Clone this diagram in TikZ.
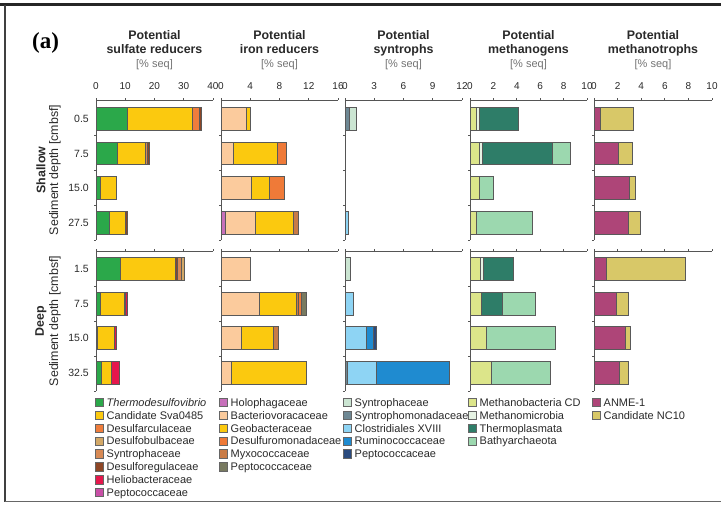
\documentclass[tikz,border=0pt]{standalone}
\usepackage{fontspec}
\setmainfont{Liberation Sans}
\newfontfamily\serifb{Liberation Serif}
\definecolor{cThermo}{HTML}{2BA84A}
\definecolor{cSva}{HTML}{FBC90F}
\definecolor{cDarc}{HTML}{EF7D3C}
\definecolor{cDbulb}{HTML}{D3A867}
\definecolor{cSyntroph}{HTML}{D88A55}
\definecolor{cDreg}{HTML}{8E4626}
\definecolor{cHelio}{HTML}{E5174C}
\definecolor{cPeptoA}{HTML}{C84FA6}
\definecolor{cHolo}{HTML}{C770BA}
\definecolor{cBacv}{HTML}{FBCB9D}
\definecolor{cGeo}{HTML}{FBC90F}
\definecolor{cDmon}{HTML}{EF7A38}
\definecolor{cMyxo}{HTML}{C97B46}
\definecolor{cPeptoB}{HTML}{787A60}
\definecolor{cSynC}{HTML}{CBE5D2}
\definecolor{cSmon}{HTML}{6E8894}
\definecolor{cClos}{HTML}{8ED4F4}
\definecolor{cRumi}{HTML}{1F8BD0}
\definecolor{cPeptoC}{HTML}{2A4A7E}
\definecolor{cMbac}{HTML}{DCE58A}
\definecolor{cMmic}{HTML}{E6F3E4}
\definecolor{cTpl}{HTML}{2E7D68}
\definecolor{cBath}{HTML}{9CD8AF}
\definecolor{cAnme}{HTML}{AE4578}
\definecolor{cNC}{HTML}{D8C868}
\definecolor{txt}{HTML}{2A2A2A}
\definecolor{axc}{HTML}{555555}
\newcommand\segs[2]{\foreach \a/\b/\c in {#2}{\draw[segbox,fill=\c] (\a,#1-11.3) rectangle (\b,#1+11.3);}}
\newcommand\paxis[3]{%
  \draw[axline] (0,#1) -- (#2,#1);
  \foreach \t in {0,#3,...,#2} \draw[axline] (\t,#1) -- ++(0,-2.5);
  \draw[axline] (0,#1) -- (0,#1+140);
  \foreach \k in {35,70,105,140} \draw[axline] (0,#1+\k) -- ++(-2.5pt,0);}
\newcommand\pticks[2]{\foreach \t in {0,#2,...,#1} \node[ticklab] at (\t,89) {\t};}
\newcommand\legcol[2]{\foreach \c/\t [count=\i from 0] in {#2}{%
  \node[legsq,fill=\c] at (#1+4.5,402.5+12.86*\i) {};
  \node[legtx] at (#1+11.5,402.5+12.86*\i+3.9) {\t};}}
\tikzset{
  segbox/.style={draw=black!65,line width=0.6pt},
  axline/.style={draw=axc,line width=0.8pt},
  ticklab/.style={anchor=base,inner sep=0pt,text=txt,font=\fontsize{10}{12}\selectfont},
  rowlab/.style={anchor=base east,inner sep=0pt,text=txt,font=\fontsize{10.5}{12}\selectfont},
  ttl/.style={anchor=base,inner sep=0pt,text=txt,font=\fontsize{12.4}{14}\selectfont\bfseries},
  ttlsub/.style={anchor=base,inner sep=0pt,text=black!55,font=\fontsize{11}{13}\selectfont},
  ylab/.style={rotate=90,inner sep=0pt,text=txt,font=\fontsize{12.4}{14}\selectfont},
  legsq/.style={draw=black!60,line width=0.6pt,minimum size=8.5pt,inner sep=0pt},
  legtx/.style={anchor=base west,inner sep=0pt,text=txt,font=\fontsize{11}{13}\selectfont},
}
\begin{document}
\begin{tikzpicture}[x=1pt,y=-1pt]
\useasboundingbox (0,0) rectangle (721,504);
\fill[white] (0,0) rectangle (721,504);
% frame
\draw[line width=2.5pt,draw=black!85] (0,4.5) -- (721,4.5);
\draw[line width=2.2pt,draw=black!75] (4.8,4.5) -- (4.8,501.5);
\draw[line width=1.5pt,draw=black!60] (4.8,501.5) -- (721,501.5);
\node[anchor=west,inner sep=0pt,font=\serifb\fontsize{23}{25}\selectfont\bfseries] (lbla) at (32,42.5) {(a)};
% titles
\foreach \cx/\tt in {154.5/sulfate reducers,279.5/iron reducers,403.5/syntrophs,528.5/methanogens,653/methanotrophs}{
  \node[ttl] at (\cx,39.5) {Potential};
  \node[ttl] at (\cx,53.5) {\tt};
  \node[ttlsub] at (\cx,67.5) {[\% seq]};}
% row labels
\foreach \y/\l in {118.6/0.5,153.3/7.5,188/15.0,222.6/27.5,269/1.5,303.5/7.5,338/15.0,372.5/32.5}
  \node[rowlab] at (89,\y+3.7) {\l};
\node[ylab,font=\fontsize{12.4}{14}\selectfont\bfseries] (sh) at (41,170) {Shallow};
\node[ylab] (shd) at (55,170) {Sediment depth [cmbsf]};
\node[ylab,font=\fontsize{12.4}{14}\selectfont\bfseries] (dp) at (41,321) {Deep};
\node[ylab] (dpd) at (55,321) {Sediment depth [cmbsf]};
% panel 1
\begin{scope}[shift={(96,0)},x=2.925pt]
\paxis{100}{40}{10}\paxis{251}{40}{10}\pticks{40}{10}
\segs{118.6}{0/10.8/cThermo,10.8/33.0/cSva,33.0/35.4/cDarc,35.4/36.0/cDreg}
\segs{153.3}{0/7.3/cThermo,7.3/16.9/cSva,16.9/17.4/cSyntroph,17.4/18.2/cDreg}
\segs{188}{0/1.4/cThermo,1.4/6.95/cSva}
\segs{222.6}{0/4.6/cThermo,4.6/9.9/cSva,9.9/10.6/cDreg}
\segs{269}{0/8.2/cThermo,8.2/27.2/cSva,27.2/27.8/cDreg,27.8/29.3/cSyntroph,29.3/30.3/cDbulb}
\segs{303.5}{0/1.4/cThermo,1.4/9.6/cSva,9.6/10.0/cDreg,10.0/10.7/cHelio}
\segs{338}{0/0.4/cThermo,0.4/6.3/cSva,6.3/7.0/cHelio}
\segs{372.5}{0/1.7/cThermo,1.7/5.1/cSva,5.1/7.9/cHelio}
\end{scope}
% panel 2
\begin{scope}[shift={(221,0)},x=7.3125pt]
\paxis{100}{16}{4}\paxis{251}{16}{4}\pticks{16}{4}
\segs{118.6}{0/3.4/cBacv,3.4/4.06/cGeo}
\segs{153.3}{0/1.7/cBacv,1.7/7.75/cGeo,7.75/8.9/cDmon}
\segs{188}{0/4.2/cBacv,4.2/6.6/cGeo,6.6/8.6/cDmon}
\segs{222.6}{0/0.64/cHolo,0.64/4.74/cBacv,4.74/9.9/cGeo,9.9/10.6/cMyxo}
\segs{269}{0/4.0/cBacv}
\segs{303.5}{0/5.24/cBacv,5.24/10.3/cGeo,10.3/10.55/cMyxo,10.55/11.0/cDmon,11.0/11.6/cPeptoB}
\segs{338}{0/2.83/cBacv,2.83/7.2/cGeo,7.2/7.85/cMyxo}
\segs{372.5}{0/1.37/cBacv,1.37/11.6/cGeo}
\end{scope}
% panel 3
\begin{scope}[shift={(345,0)},x=9.75pt]
\paxis{100}{12}{3}\paxis{251}{12}{3}\pticks{12}{3}
\segs{118.6}{0/0.45/cSmon,0.45/1.2/cSynC}
\segs{222.6}{0/0.35/cClos}
\segs{269}{0/0.5/cSynC}
\segs{303.5}{0/0.8/cClos}
\segs{338}{0/2.2/cClos,2.2/2.9/cRumi,2.9/3.25/cPeptoC}
\segs{372.5}{0/0.25/cSmon,0.25/3.2/cClos,3.2/10.7/cRumi}
\end{scope}
% panel 4
\begin{scope}[shift={(470,0)},x=11.7pt]
\paxis{100}{10}{2}\paxis{251}{10}{2}\pticks{10}{2}
\segs{118.6}{0/0.5/cMbac,0.5/0.8/cMmic,0.8/4.13/cTpl}
\segs{153.3}{0/0.8/cMbac,0.8/1.03/cMmic,1.03/7.03/cTpl,7.03/8.57/cBath}
\segs{188}{0/0.8/cMbac,0.8/2.0/cBath}
\segs{222.6}{0/0.5/cMbac,0.5/5.3/cBath}
\segs{269}{0/0.9/cMbac,0.9/1.14/cMmic,1.14/3.7/cTpl}
\segs{303.5}{0/0.94/cMbac,0.94/2.76/cTpl,2.76/5.56/cBath}
\segs{338}{0/1.37/cMbac,1.37/7.32/cBath}
\segs{372.5}{0/1.85/cMbac,1.85/6.84/cBath}
\end{scope}
% panel 5
\begin{scope}[shift={(594,0)},x=11.8pt]
\paxis{100}{10}{2}\paxis{251}{10}{2}\pticks{10}{2}
\segs{118.6}{0/0.57/cAnme,0.57/3.36/cNC}
\segs{153.3}{0/2.07/cAnme,2.07/3.26/cNC}
\segs{188}{0/2.97/cAnme,2.97/3.48/cNC}
\segs{222.6}{0/2.92/cAnme,2.92/3.9/cNC}
\segs{269}{0/1.02/cAnme,1.02/7.7/cNC}
\segs{303.5}{0/1.86/cAnme,1.86/2.9/cNC}
\segs{338}{0/2.63/cAnme,2.63/3.1/cNC}
\segs{372.5}{0/2.14/cAnme,2.14/2.94/cNC}
\end{scope}
% legend
\legcol{95}{cThermo/{\textit{Thermodesulfovibrio}},cSva/Candidate Sva0485,cDarc/Desulfarculaceae,cDbulb/Desulfobulbaceae,cSyntroph/Syntrophaceae,cDreg/Desulforegulaceae,cHelio/Heliobacteraceae,cPeptoA/Peptococcaceae}
\legcol{219}{cHolo/Holophagaceae,cBacv/Bacteriovoracaceae,cGeo/Geobacteraceae,cDmon/Desulfuromonadaceae,cMyxo/Myxococcaceae,cPeptoB/Peptococcaceae}
\legcol{343}{cSynC/Syntrophaceae,cSmon/Syntrophomonadaceae,cClos/Clostridiales XVIII,cRumi/Ruminococcaceae,cPeptoC/Peptococcaceae}
\legcol{468}{cMbac/Methanobacteria CD,cMmic/Methanomicrobia,cTpl/Thermoplasmata,cBath/Bathyarchaeota}
\legcol{592}{cAnme/ANME-1,cNC/Candidate NC10}
\end{tikzpicture}
\end{document}
